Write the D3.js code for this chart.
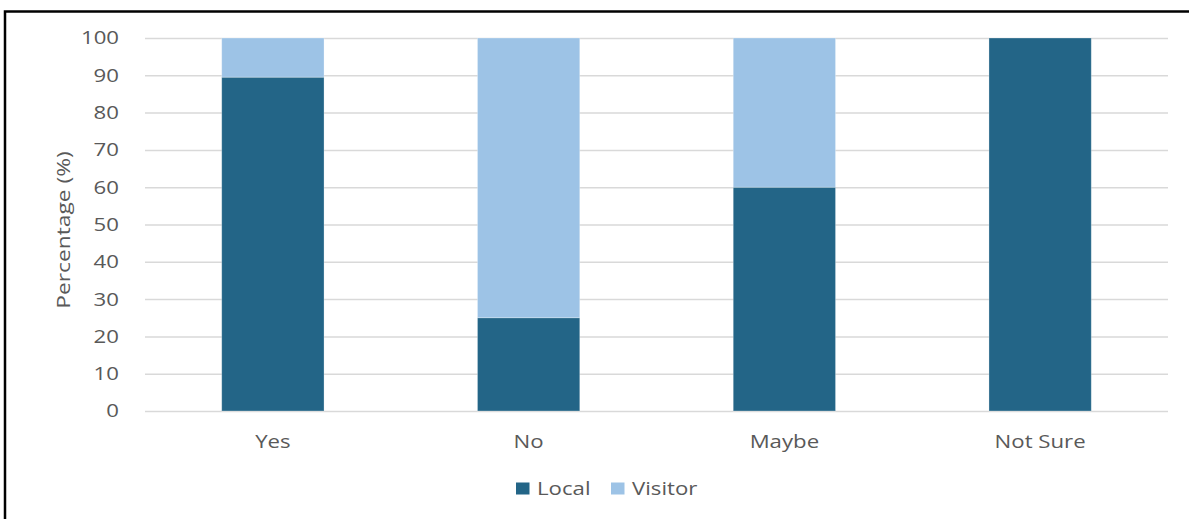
<!DOCTYPE html>
<html><head><meta charset="utf-8">
<script src="https://cdn.jsdelivr.net/npm/d3@7"></script>
<style>body{margin:0;background:#fff;}svg{display:block;}</style>
</head><body>
<svg id="c" width="1189" height="519"></svg>
<script>
const categories = ["Yes", "No", "Maybe", "Not Sure"];
const localValues = [89.5, 25, 60, 100];
const visitorValues = [10.5, 75, 40, 0];
const seriesNames = ["Local", "Visitor"];
const seriesColors = ["#236587", "#9dc3e6"];
const yTicks = [0,10,20,30,40,50,60,70,80,90,100];

const svg = d3.select("#c");
const font = "'Open Sans', 'Noto Sans', sans-serif";
const textColor = "#595959";
const sx = 1.2;

// border
svg.append("path").attr("d","M5,519 L5,11.5 L1189,11.5").attr("fill","none").attr("stroke","#000").attr("stroke-width",2.5);

const x = d3.scaleBand().domain(categories).range([145,1168]).paddingInner(0.6).paddingOuter(0.3);
const y = d3.scaleLinear().domain([0,100]).range([411,38]);

// gridlines + y tick labels
const yAxis = d3.axisLeft(y).tickValues(yTicks).tickSize(-(1168-145)).tickPadding(26);
const gy = svg.append("g").attr("transform","translate(145,0)").call(yAxis);
gy.select(".domain").remove();
gy.selectAll(".tick line").attr("stroke","#d9d9d9").attr("stroke-width",1.5);
gy.selectAll(".tick text").attr("fill",textColor).style("font-family",font).style("font-size","18.5px")
  .attr("x",0).attr("transform",`translate(-26,0) scale(${sx},1)`);

const stackData = categories.map((c,i)=>({cat:c, Local:localValues[i], Visitor:visitorValues[i]}));
const stacked = d3.stack().keys(seriesNames)(stackData);
svg.append("g").selectAll("g").data(stacked).join("g")
  .attr("fill",(d,i)=>seriesColors[i])
  .selectAll("rect").data(d=>d).join("rect")
  .attr("x",d=>x(d.data.cat)).attr("width",x.bandwidth())
  .attr("y",d=>y(d[1])).attr("height",d=>y(d[0])-y(d[1]))
  .attr("stroke","#ffffff").attr("stroke-opacity",0.35).attr("stroke-width",0.8);

// x axis labels
const xAxis = d3.axisBottom(x).tickSize(0).tickPadding(24);
const gx = svg.append("g").attr("transform","translate(0,411)").call(xAxis);
gx.select(".domain").remove();
gx.selectAll(".tick text").attr("fill",textColor).style("font-family",font).style("font-size","18.5px")
  .attr("transform",`scale(${sx},1)`);

// y title
svg.append("text").attr("transform",`translate(70,230) rotate(-90) scale(${sx},1)`).attr("text-anchor","middle")
  .attr("fill",textColor).style("font-family",font).style("font-size","19px").text("Percentage (%)");

// legend
const legend = svg.append("g");
const legX = [516, 611];
seriesNames.forEach((n,i)=>{
  legend.append("rect").attr("x",legX[i]).attr("y",482.5).attr("width",13.5).attr("height",12).attr("fill",seriesColors[i]);
  legend.append("text").attr("transform",`translate(${legX[i]+21},495) scale(${sx},1)`).attr("fill",textColor)
    .style("font-family",font).style("font-size","18.5px").text(n);
});
</script>
</body></html>
